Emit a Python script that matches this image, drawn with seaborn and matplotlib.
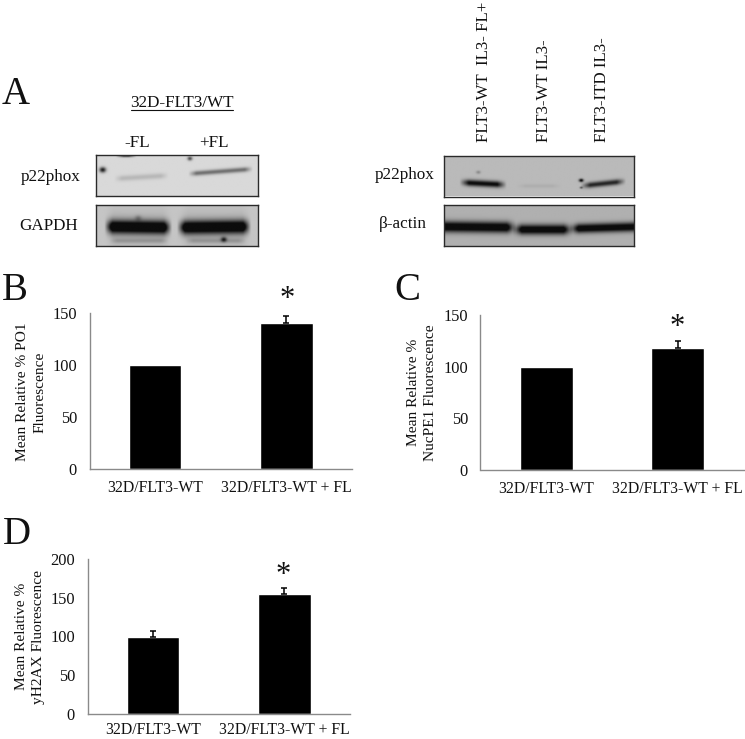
import numpy as np
import pandas as pd
import seaborn as sns
import matplotlib
matplotlib.use("Agg")
import matplotlib.pyplot as plt

W, H = 745, 739

categories = ["32D/FLT3-WT", "32D/FLT3-WT + FL"]
po1_values = [100, 141]
po1_errors = [0, 6.5]
nucpe1_values = [100, 118]
nucpe1_errors = [0, 7]
h2ax_values = [100, 155]
h2ax_errors = [7, 8]

# blot bands: x0, x1, y0, y1, thickness, darkness (all in fractions of the blot)
wt_p22_bands = [(0.11, 0.45, 0.58, 0.50, 0.07, 0.14), (0.57, 0.97, 0.46, 0.34, 0.06, 0.45),
                (0.12, 0.25, 0.02, 0.02, 0.03, 0.60)]
wt_p22_spots = [(0.04, 0.36, 0.02, 0.8), (0.58, 0.08, 0.015, 0.6)]
wt_gapdh_bands = [(0.05, 0.47, 0.54, 0.56, 0.16, 1.1), (0.50, 0.96, 0.56, 0.54, 0.16, 1.1),
                  (0.06, 0.46, 0.60, 0.60, 0.45, 0.10), (0.52, 0.95, 0.60, 0.60, 0.45, 0.10),
                  (0.08, 0.45, 0.88, 0.88, 0.06, 0.15), (0.55, 0.93, 0.88, 0.88, 0.06, 0.15)]
wt_gapdh_spots = [(0.79, 0.85, 0.018, 0.6), (0.26, 0.33, 0.02, 0.2)]
ff_p22_bands = [(0.08, 0.33, 0.67, 0.73, 0.08, 0.9), (0.38, 0.62, 0.76, 0.76, 0.05, 0.06),
                (0.72, 0.96, 0.76, 0.64, 0.07, 0.75)]
ff_p22_spots = [(0.723, 0.62, 0.012, 0.95), (0.723, 0.80, 0.008, 0.5), (0.18, 0.42, 0.012, 0.25)]
ff_actin_bands = [(-0.05, 0.38, 0.54, 0.56, 0.13, 1.1), (0.36, 0.68, 0.61, 0.61, 0.12, 1.05),
                  (0.66, 1.05, 0.59, 0.54, 0.11, 1.05)]


def px_axes(fig, x0, y0, x1, y1):
    return fig.add_axes([x0 / W, 1 - y1 / H, (x1 - x0) / W, (y1 - y0) / H])


def label(fig, x, y, s, **kw):
    kw.setdefault("ha", "center")
    kw.setdefault("va", "center")
    kw.setdefault("color", "#111111")
    fig.text(x / W, 1 - y / H, s, **kw)


def draw_blot(fig, box, bg, bands, spots=()):
    ax = px_axes(fig, *box)
    xs = np.linspace(0, 1, 300)
    ys = np.linspace(0, 1, 80)
    xx, yy = np.meshgrid(xs, ys)
    img = np.zeros_like(xx)
    for x0, x1, y0, y1, thick, dark in bands:
        centre = y0 + (y1 - y0) * (xx - x0) / (x1 - x0)
        fade = np.clip((xx - x0) / 0.05, 0, 1) * np.clip((x1 - xx) / 0.05, 0, 1)
        img += dark * fade * np.exp(-((yy - centre) / thick) ** 2)
    for sx, sy, size, dark in spots:
        img += dark * np.exp(-((xx - sx) ** 2 + ((yy - sy) * 0.3) ** 2) / size ** 2)
    img = bg * (1 - np.clip(img * 1.15, 0, 1)) + 0.05
    ax.imshow(img, cmap="gray", vmin=0, vmax=1, aspect="auto", extent=(0, 1, 1, 0),
              interpolation="bilinear")
    ax.set_xticks([])
    ax.set_yticks([])
    for sp in ax.spines.values():
        sp.set_color("#2a2a2a")
        sp.set_linewidth(1.0)
    return ax


def draw_bars(fig, box, values, errors, yticks, ylabel, ylabel_x, star, xpad=8):
    ax = px_axes(fig, *box)
    df = pd.DataFrame({"group": categories, "value": values})
    sns.barplot(data=df, x="group", y="value", color="black", saturation=1, width=0.4, ax=ax)
    for i, e in enumerate(errors):
        if e > 0:
            ax.errorbar(i, values[i], yerr=[[0], [e]], color="black", elinewidth=1.1,
                        capsize=2.3, capthick=1.1, clip_on=False)
    ax.set_xlim(-0.5, 1.5)
    ax.set_ylim(yticks[0], yticks[-1])
    ax.set_yticks(yticks)
    ax.set_xticks([-0.5, 0.5, 1.5], minor=True)
    ax.set_xlabel("")
    ax.set_ylabel("")
    ax.tick_params(axis="x", which="major", length=0, pad=xpad, labelsize=11.3, colors="#111111")
    ax.tick_params(axis="x", which="minor", length=3.5, width=0.9, color="#8a8a8a")
    ax.tick_params(axis="y", length=3.5, width=0.9, color="#8a8a8a", labelsize=11.8,
                   labelcolor="#111111", pad=5.5)
    sns.despine(ax=ax)
    for side in ("left", "bottom"):
        ax.spines[side].set_color("#8a8a8a")
        ax.spines[side].set_linewidth(1.0)
    ax.patch.set_alpha(0)
    label(fig, ylabel_x, (box[1] + box[3]) / 2 + ylabel[1], ylabel[0], rotation=90,
          fontsize=11.1, linespacing=1.45)
    label(fig, star[0], star[1], "*", fontsize=22)
    return ax


def main():
    sns.set_theme(style="white")
    plt.rcParams["font.family"] = ["Liberation Serif", "DejaVu Serif"]
    fig = plt.figure(figsize=(W / 100, H / 100), dpi=100, facecolor="white")

    # western blots
    draw_blot(fig, (96, 155, 258, 196), 0.80, wt_p22_bands, wt_p22_spots)
    draw_blot(fig, (96, 204.5, 258, 246), 0.72, wt_gapdh_bands, wt_gapdh_spots)
    draw_blot(fig, (444, 155.5, 634, 196.5), 0.68, ff_p22_bands, ff_p22_spots)
    draw_blot(fig, (444, 204.5, 634, 246), 0.64, ff_actin_bands)

    # bar panels
    draw_bars(fig, (89.5, 313.3, 352, 468.7), po1_values, po1_errors, [0, 50, 100, 150],
              ("Mean Relative % PO1\nFluorescence", 1), 31.7, (287, 300))
    draw_bars(fig, (480.5, 315, 743.5, 470), nucpe1_values, nucpe1_errors, [0, 50, 100, 150],
              ("Mean Relative %\nNucPE1 Fluorescence", 0), 422, (677, 328))
    draw_bars(fig, (87.5, 559.3, 350, 713.7), h2ax_values, h2ax_errors, [0, 50, 100, 150, 200],
              ("Mean Relative %\nyH2AX Fluorescence", 0), 30, (283, 575), xpad=6)

    # panel letters
    label(fig, 15.5, 94, "A", fontsize=28)
    label(fig, 15, 291, "B", fontsize=28)
    label(fig, 407, 291, "C", fontsize=28)
    label(fig, 17, 535, "D", fontsize=28)

    # blot labels
    label(fig, 182, 103, "32D-FLT3/WT", fontsize=12.3)
    fig.add_artist(plt.Line2D([131 / W, 233 / W], [1 - 110 / H, 1 - 110 / H], color="#111111", lw=0.8))
    label(fig, 137, 143, "-FL", fontsize=12.3)
    label(fig, 214, 143, "+FL", fontsize=12.3)
    label(fig, 51, 177, "p22phox", fontsize=12.3)
    label(fig, 49, 226, "GAPDH", fontsize=12.3)
    label(fig, 405, 175, "p22phox", fontsize=12.3)
    label(fig, 403, 224, "β-actin", fontsize=12.3)
    for x, s in [(484, "FLT3-WT  IL3- FL+"), (544, "FLT3-WT IL3-"), (602, "FLT3-ITD IL3-")]:
        label(fig, x, 142, s, rotation=90, va="bottom", fontsize=12.2)

    fig.savefig("out.png", dpi=100)


if __name__ == "__main__":
    main()
